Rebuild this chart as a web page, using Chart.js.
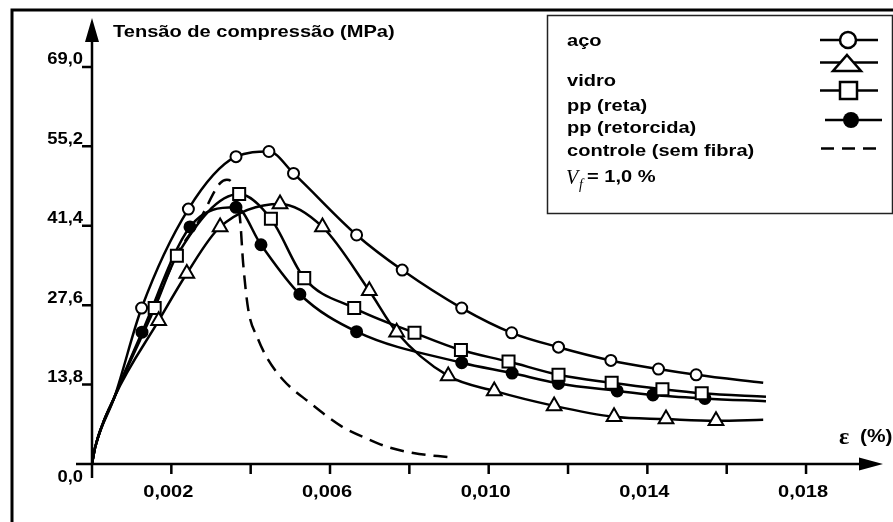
<!DOCTYPE html>
<html>
<head>
<meta charset="utf-8">
<title>Tensão de compressão x deformação</title>
<script src="https://cdn.jsdelivr.net/npm/chart.js@4.4.1/dist/chart.umd.min.js"></script>
<style>
  html, body { margin: 0; padding: 0; background: #fff; }
  #wrap { width: 893px; height: 522px; }
</style>
</head>
<body>
<div id="wrap"><canvas id="chart" width="893" height="522"></canvas></div>
<script>
// deformação (%) e tensão (MPa)
const acoX = [0, 0.00008, 0.00057, 0.00125, 0.00243, 0.00363, 0.00446, 0.00508, 0.00667, 0.00782, 0.00932, 0.01058, 0.01176, 0.01308, 0.01428, 0.01523, 0.01692];
const acoY = [0, 2.9, 11.7, 27.1, 44.3, 53.4, 54.3, 50.5, 39.8, 33.7, 27.1, 22.8, 20.3, 18.0, 16.5, 15.5, 14.1];

const vidroX = [0, 0.00008, 0.00057, 0.00168, 0.00239, 0.00323, 0.00474, 0.00581, 0.00699, 0.00768, 0.00898, 0.01014, 0.01165, 0.01316, 0.01447, 0.01573, 0.01692];
const vidroY = [0, 2.9, 11.7, 24.9, 33.1, 41.2, 45.2, 41.2, 30.1, 22.9, 15.3, 12.7, 10.1, 8.2, 7.8, 7.5, 7.7];

const retaX = [0, 0.00008, 0.00057, 0.00158, 0.00214, 0.00371, 0.00451, 0.00535, 0.00661, 0.00813, 0.0093, 0.0105, 0.01176, 0.0131, 0.01438, 0.01537, 0.01699];
const retaY = [0, 2.9, 11.7, 27.1, 36.2, 46.9, 42.6, 32.3, 27.1, 22.8, 19.8, 17.8, 15.5, 14.1, 13.0, 12.3, 11.7];

const retorcidaX = [0, 0.00008, 0.00057, 0.00126, 0.00247, 0.00363, 0.00426, 0.00524, 0.00667, 0.00932, 0.01059, 0.01176, 0.01324, 0.01414, 0.01545, 0.01699];
const retorcidaY = [0, 2.9, 11.7, 22.9, 41.2, 44.6, 38.1, 29.5, 23.0, 17.6, 15.8, 14.0, 12.7, 12.0, 11.4, 10.9];

const controleX = [0, 0.00008, 0.00057, 0.00158, 0.00215, 0.00272, 0.00323, 0.0034, 0.00373, 0.00381, 0.00394, 0.00418, 0.0044, 0.00482, 0.0055, 0.0063, 0.007, 0.00744, 0.0081, 0.00903];
const controleY = [0, 2.9, 11.7, 27.5, 36.5, 42.5, 48.8, 49.4, 42.7, 34.9, 26.8, 21.8, 18.6, 14.6, 10.6, 6.5, 4.2, 3.0, 1.9, 1.16];

const xTicks = [0.002, 0.004, 0.006, 0.008, 0.010, 0.012, 0.014, 0.016, 0.018];
const xTickLabels = ['0,002', '', '0,006', '', '0,010', '', '0,014', '', '0,018'];
const yTicks = [13.8, 27.6, 41.4, 55.2, 69.0];
const yTickLabels = ['13,8', '27,6', '41,4', '55,2', '69,0'];
const xMax = 0.01994;
const yMax = 77.5;

const pts = (xs, ys) => xs.map((x, i) => ({ x: x, y: ys[i] }));

// sem marcador nos pontos iniciais (rampa comum) e no fim da curva
const markerRadius = r => c => (c.dataIndex < 3 || c.dataIndex === c.dataset.data.length - 1) ? 0 : r;

const SANS = "'Liberation Sans', Arial, sans-serif";
const SERIF = "'Liberation Serif', 'Times New Roman', serif";

function text(ctx, str, x, y, font, align, sx) {
  ctx.save();
  ctx.translate(x, y);
  ctx.scale(sx, 1);
  ctx.font = font;
  ctx.textAlign = align;
  ctx.textBaseline = 'middle';
  ctx.fillText(str, 0, 0);
  ctx.restore();
}

const axesPlugin = {
  id: 'axes',
  beforeDatasetsDraw(chart) {
    const { ctx, scales: { x, y } } = chart;
    const x0 = x.getPixelForValue(0), y0 = y.getPixelForValue(0);
    const xEnd = x.right, yEnd = y.top;
    ctx.save();
    ctx.strokeStyle = '#000';
    ctx.fillStyle = '#000';

    ctx.lineWidth = 3;
    ctx.strokeRect(12, 10, 900, 530);

    ctx.lineWidth = 2.5;
    ctx.beginPath();
    ctx.moveTo(x0 - 16, y0); ctx.lineTo(xEnd - 20, y0);
    ctx.moveTo(x0, y0 + 14); ctx.lineTo(x0, yEnd + 20);
    ctx.stroke();

    ctx.beginPath();
    ctx.moveTo(xEnd, y0); ctx.lineTo(xEnd - 24, y0 - 6.5); ctx.lineTo(xEnd - 24, y0 + 6.5); ctx.closePath();
    ctx.moveTo(x0, yEnd); ctx.lineTo(x0 - 7, yEnd + 24); ctx.lineTo(x0 + 7, yEnd + 24); ctx.closePath();
    ctx.fill();

    ctx.lineWidth = 2.5;
    ctx.beginPath();
    xTicks.forEach(v => {
      const px = x.getPixelForValue(v);
      ctx.moveTo(px, y0); ctx.lineTo(px, y0 + 10);
    });
    yTicks.forEach(v => {
      const py = y.getPixelForValue(v);
      ctx.moveTo(x0, py); ctx.lineTo(x0 - 10, py);
    });
    ctx.stroke();

    const tickFont = 'bold 16px ' + SANS;
    xTicks.forEach((v, i) => {
      if (xTickLabels[i]) text(ctx, xTickLabels[i], x.getPixelForValue(v) - 3, y0 + 29, tickFont, 'center', 1.25);
    });
    yTicks.forEach((v, i) => {
      text(ctx, yTickLabels[i], x0 - 9, y.getPixelForValue(v) - 7, tickFont, 'right', 1.15);
    });
    text(ctx, '0,0', x0 - 9, y0 + 14, tickFont, 'right', 1.15);

    text(ctx, 'Tensão de compressão (MPa)', 113, 32, 'bold 17px ' + SANS, 'left', 1.18);

    ctx.save();
    ctx.font = 'bold 24px ' + SERIF;
    ctx.textBaseline = 'alphabetic';
    ctx.fillText('ε', 839, 444);
    ctx.restore();
    text(ctx, '(%)', 860, 437, 'bold 19px ' + SANS, 'left', 1.1);
    ctx.restore();
  },
  afterDraw(chart) {
    const ctx = chart.ctx;
    const ds = chart.data.datasets;
    ctx.save();
    ctx.fillStyle = '#fff';
    ctx.fillRect(547.5, 15.5, 345, 198);
    ctx.strokeStyle = '#222';
    ctx.lineWidth = 1.5;
    ctx.strokeRect(547.5, 15.5, 345, 198);

    ctx.fillStyle = '#000';
    const labelY = [41, 81, 106.5, 128, 151.5];
    const legFont = 'bold 17px ' + SANS;
    ds.forEach((d, i) => text(ctx, d.label, 567, labelY[i], legFont, 'left', 1.18));

    ctx.save();
    ctx.font = 'italic 20px ' + SERIF;
    ctx.textBaseline = 'alphabetic';
    ctx.fillText('V', 566, 184);
    ctx.font = 'italic 14px ' + SERIF;
    ctx.fillText('f', 579, 189);
    ctx.restore();
    text(ctx, '= 1,0 %', 587, 177, legFont, 'left', 1.18);

    // símbolos
    ctx.strokeStyle = '#000';
    ctx.lineWidth = 2.5;
    const seg = (x1, x2, yy) => { ctx.beginPath(); ctx.moveTo(x1, yy); ctx.lineTo(x2, yy); ctx.stroke(); };
    seg(820, 878, 40);
    ctx.fillStyle = '#fff';
    ctx.beginPath(); ctx.arc(848, 40, 8, 0, Math.PI * 2); ctx.fill(); ctx.stroke();

    seg(820, 878, 62.5);
    ctx.beginPath(); ctx.moveTo(847, 55); ctx.lineTo(861, 71); ctx.lineTo(833, 71); ctx.closePath(); ctx.fill(); ctx.stroke();

    seg(820, 878, 90.5);
    ctx.fillRect(840, 82, 17, 17); ctx.strokeRect(840, 82, 17, 17);

    seg(825, 882, 120);
    ctx.fillStyle = '#000';
    ctx.beginPath(); ctx.arc(851, 120, 8, 0, Math.PI * 2); ctx.fill();

    ctx.setLineDash([13, 8]);
    seg(821, 882, 148.5);
    ctx.restore();
  }
};

const lineBase = {
  showLine: true,
  borderColor: '#000',
  borderWidth: 2.5,
  cubicInterpolationMode: 'monotone',
  pointBorderColor: '#000',
  pointBorderWidth: 2,
  pointHoverRadius: 0
};

new Chart(document.getElementById('chart'), {
  type: 'scatter',
  data: {
    datasets: [
      Object.assign({}, lineBase, { label: 'aço', data: pts(acoX, acoY), pointStyle: 'circle', pointRadius: markerRadius(5.5), pointBackgroundColor: '#fff' }),
      Object.assign({}, lineBase, { label: 'vidro', data: pts(vidroX, vidroY), pointStyle: 'triangle', pointRadius: markerRadius(8.5), pointBackgroundColor: '#fff' }),
      Object.assign({}, lineBase, { label: 'pp (reta)', data: pts(retaX, retaY), pointStyle: 'rect', pointRadius: markerRadius(8.5), pointBackgroundColor: '#fff' }),
      Object.assign({}, lineBase, { label: 'pp (retorcida)', data: pts(retorcidaX, retorcidaY), pointStyle: 'circle', pointRadius: markerRadius(5.5), pointBackgroundColor: '#000' }),
      Object.assign({}, lineBase, { label: 'controle (sem fibra)', data: pts(controleX, controleY), pointRadius: 0, borderDash: [14, 8] })
    ]
  },
  options: {
    responsive: false,
    animation: false,
    events: [],
    layout: { padding: { left: 92, right: 10, top: 18, bottom: 58 } },
    scales: {
      x: { type: 'linear', min: 0, max: xMax, display: false },
      y: { type: 'linear', min: 0, max: yMax, display: false }
    },
    plugins: {
      legend: { display: false },
      tooltip: { enabled: false }
    }
  },
  plugins: [axesPlugin]
});
</script>
</body>
</html>
